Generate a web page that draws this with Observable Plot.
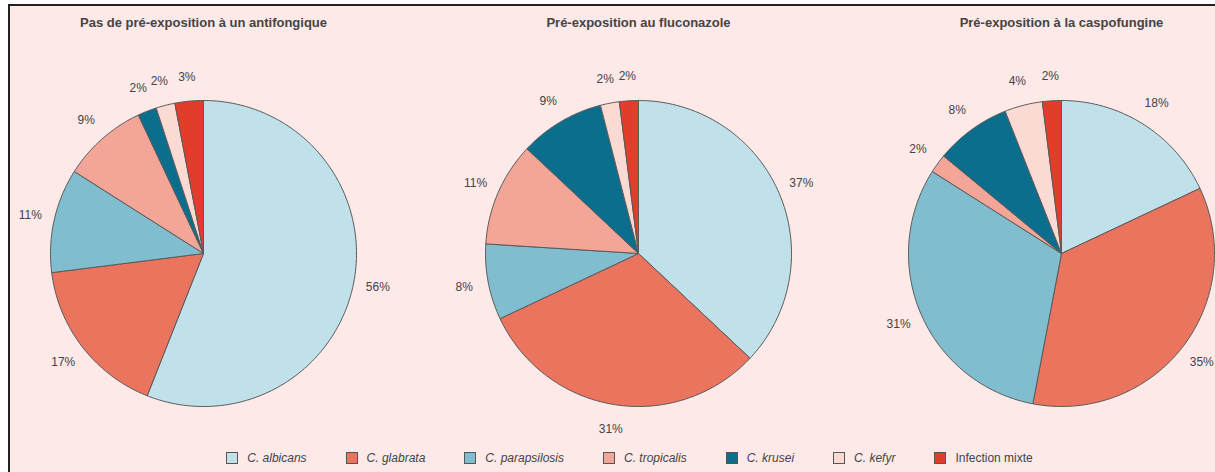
<!DOCTYPE html>
<html>
<head>
<meta charset="utf-8">
<script src="https://cdn.jsdelivr.net/npm/d3@7"></script>
<script src="https://cdn.jsdelivr.net/npm/@observablehq/plot@0.6"></script>
<style>
  html, body { margin: 0; padding: 0; background: #ffffff; width: 1215px; height: 472px; overflow: hidden; }
  #frame { position: absolute; left: 8px; top: 4px; width: 1207px; height: 468px;
           border-left: 2px solid #222; border-top: 2px solid #222; background: #fce9e8; box-sizing: border-box; }
  #chart { position: absolute; left: 0; top: 0; }
  #legend { position: absolute; top: 451px; left: 22px; width: 1215px; display: flex; justify-content: center;
            gap: 39px; font-family: "Liberation Sans", Arial, sans-serif; font-size: 12px; color: #444; }
  #legend .item { display: flex; align-items: center; }
  #legend .sw { width: 10px; height: 10px; border: 1px solid #555; margin-right: 9px; }
  #legend .lab { font-style: italic; }
  #legend .lab.up { font-style: normal; }
</style>
</head>
<body>
<div id="frame"></div>
<div id="chart"></div>
<div id="legend"></div>
<script>
// ---- data ----
const panels = [
  "Pas de pré-exposition à un antifongique",
  "Pré-exposition au fluconazole",
  "Pré-exposition à la caspofungine"
];
const species = ["C. albicans", "C. glabrata", "C. parapsilosis", "C. tropicalis", "C. krusei", "C. kefyr", "Infection mixte"];
const noPreExposure = [56, 17, 11, 9, 2, 2, 3];
const fluconazole   = [37, 31, 8, 11, 9, 2, 2];
const caspofungine  = [18, 35, 31, 2, 8, 4, 2];
const colors = ["#c0e1e9", "#eb745f", "#80bdcf", "#f3a597", "#0b6e8d", "#fcdad4", "#e23c2a"];

// ---- build slices (angles clockwise from 12 o'clock) ----
const series = [noPreExposure, fluconazole, caspofungine];
const slicePoints = [];
const labels = [];
series.forEach((vals, p) => {
  const total = d3.sum(vals);
  let start = 0;
  vals.forEach((v, i) => {
    const a0 = start / total * 2 * Math.PI;
    const a1 = (start + v) / total * 2 * Math.PI;
    const key = p + "-" + i;
    slicePoints.push({panel: panels[p], species: species[i], key, x: 0, y: 0});
    const n = Math.max(2, Math.ceil((a1 - a0) / (Math.PI / 180)));
    for (let k = 0; k <= n; k++) {
      const a = a0 + (a1 - a0) * k / n;
      slicePoints.push({panel: panels[p], species: species[i], key, x: Math.sin(a), y: Math.cos(a)});
    }
    slicePoints.push({panel: panels[p], species: species[i], key, x: 0, y: 0});
    const am = (a0 + a1) / 2;
    labels.push({panel: panels[p], text: v + "%", x: 1.16 * Math.sin(am), y: 1.16 * Math.cos(am)});
    start += v;
  });
});

const font = "'Liberation Sans', Arial, sans-serif";
// small horizontal nudge of each panel (layout)
const panelShift = [0, 6, 0];

const marks = [];
panels.forEach((name, p) => {
  const dx = panelShift[p];
  marks.push(
    Plot.line(slicePoints.filter(d => d.panel === name), {fx: "panel", x: "x", y: "y", z: "key", fill: "species",
      stroke: "#5a5a5a", strokeWidth: 1, strokeLinejoin: "round", curve: "linear", dx}),
    Plot.text(labels.filter(d => d.panel === name), {fx: "panel", x: "x", y: "y", text: "text", fill: "#444", fontSize: 12, dx}),
    Plot.text([name], {fx: d => d, text: d => d, frameAnchor: "top", dy: -83, dx,
      fontWeight: "bold", fontSize: 13, fill: "#444"})
  );
});

const chart = Plot.plot({
  width: 1215,
  height: 440,
  marginTop: 100,
  marginBottom: 34,
  marginLeft: 49,
  marginRight: 1,
  style: {background: "transparent", fontFamily: font},
  x: {domain: [-1, 1], axis: null},
  y: {domain: [-1, 1], axis: null},
  fx: {domain: panels, paddingInner: 0.2875, paddingOuter: 0, axis: null},
  color: {domain: species, range: colors},
  marks
});
document.getElementById("chart").appendChild(chart);

// ---- legend ----
const legend = document.getElementById("legend");
species.forEach((s, i) => {
  const item = document.createElement("div");
  item.className = "item";
  const sw = document.createElement("span");
  sw.className = "sw";
  sw.style.background = colors[i];
  const lab = document.createElement("span");
  lab.className = "lab" + (s.startsWith("C.") ? "" : " up");
  lab.textContent = s;
  item.appendChild(sw);
  item.appendChild(lab);
  legend.appendChild(item);
});
</script>
</body>
</html>
